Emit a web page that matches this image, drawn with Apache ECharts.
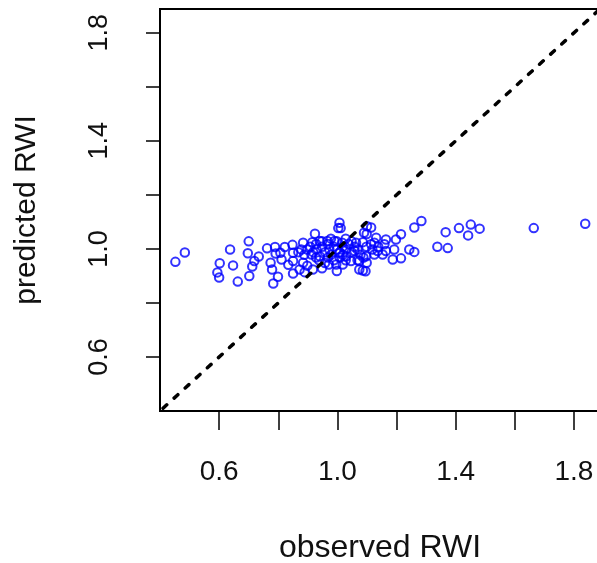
<!DOCTYPE html>
<html>
<head>
<meta charset="utf-8">
<script src="https://cdn.jsdelivr.net/npm/echarts@6/dist/echarts.min.js"></script>
<style>
  html, body { margin: 0; padding: 0; background: #fff; }
  #chart { width: 597px; height: 563px; }
</style>
</head>
<body>
<div id="chart"></div>
<script>
// observed / predicted RWI pairs
var observed = [
  0.454, 0.486, 0.604, 0.596, 0.602, 0.639, 0.649, 0.665, 0.702, 0.699,
  0.704, 0.721, 0.714, 0.736, 0.764, 0.776, 0.781, 0.801, 0.785, 0.791,
  0.793, 0.809, 0.813, 0.836, 0.852, 0.852, 0.824, 0.850, 0.852, 1.009,
  1.005, 1.013, 1.102, 1.092, 1.101, 0.926, 0.886, 0.917, 0.942, 0.968,
  0.992, 1.018, 1.065, 1.088, 1.133, 1.166, 1.200, 1.217, 1.262, 1.286,
  1.245, 1.262, 1.194, 1.138, 1.155, 1.189, 1.217, 1.127, 1.099, 1.076,
  1.101, 1.088, 1.097, 1.076, 1.048, 1.020, 0.998, 0.973, 0.942, 0.914,
  0.886, 0.874, 0.891, 0.919, 0.931, 0.975, 1.009, 1.032, 1.060, 1.116,
  1.368, 1.413, 1.453, 1.444, 1.483, 1.340, 1.375, 1.666, 1.840, 1.166,
  1.161, 1.127, 1.116,
  0.90, 0.91, 0.93, 0.95, 0.96, 0.97, 0.98, 0.99, 1.00, 1.01,
  1.02, 1.03, 1.04, 1.05, 1.06, 1.07, 1.08, 1.10, 0.94, 0.96,
  0.99, 1.01, 1.03, 0.92, 0.88, 0.89, 0.95, 1.00, 1.05, 0.97,
  1.02, 1.09, 1.12, 1.14, 0.87, 0.93, 0.98, 1.03, 1.07, 0.90,
  0.95, 1.00
];
var predicted = [
  0.954, 0.989, 0.949, 0.915, 0.896, 1.000, 0.941, 0.881, 1.030, 0.986,
  0.902, 0.957, 0.937, 0.974, 1.004, 0.951, 0.926, 0.899, 0.874, 1.009,
  0.985, 0.988, 0.963, 0.943, 0.911, 0.957, 1.009, 1.017, 0.988, 1.099,
  1.079, 1.079, 1.086, 1.062, 1.057, 1.058, 1.025, 1.027, 1.031, 1.031,
  1.031, 1.025, 1.025, 1.027, 1.043, 1.037, 1.037, 1.056, 1.081, 1.105,
  1.000, 0.991, 1.000, 0.994, 0.981, 0.963, 0.967, 0.981, 0.975, 0.957,
  0.951, 0.922, 0.919, 0.926, 0.957, 0.944, 0.944, 0.944, 0.975, 0.981,
  0.951, 0.926, 0.916, 0.926, 1.000, 1.000, 0.988, 0.975, 0.994, 1.019,
  1.064, 1.079, 1.092, 1.052, 1.077, 1.010, 1.005, 1.079, 1.095, 0.994,
  1.019, 1.025, 1.081,
  1.00, 1.01, 1.02, 1.01, 0.99, 1.02, 0.98, 1.01, 1.00, 0.99,
  1.01, 1.00, 1.02, 0.99, 1.01, 1.00, 0.98, 1.01, 0.96, 0.95,
  0.96, 0.97, 0.96, 0.99, 1.00, 0.98, 1.03, 1.03, 1.03, 0.97,
  0.98, 0.97, 1.00, 1.01, 0.99, 0.97, 1.04, 1.04, 0.96, 0.94,
  0.93, 0.92
];
var refLine = [[0.3, 0.3], [2.0, 2.0]];
var tickLabels = ["0.6", "1.0", "1.4", "1.8"];

var points = observed.map(function (x, i) { return [x, predicted[i]]; });
var font = "Liberation Sans";

function tickText(v) {
  var s = v.toFixed(1);
  return tickLabels.indexOf(s) >= 0 ? s : "";
}

var chart = echarts.init(document.getElementById("chart"));
chart.setOption({
  animation: false,
  grid: {
    left: 160, top: 9, width: 440, height: 402,
    outerBoundsMode: "none",
    show: true, borderColor: "#000", borderWidth: 2, backgroundColor: "transparent"
  },
  xAxis: {
    type: "value", min: 0.402, max: 1.89, interval: 0.2,
    splitLine: { show: false },
    axisLine: { show: true, lineStyle: { color: "#000", width: 2 } },
    axisTick: { show: true, length: 19, lineStyle: { color: "#000", width: 1.5 } },
    axisLabel: {
      show: true, showMinLabel: false, showMaxLabel: false, margin: 47,
      fontFamily: font, fontSize: 28, color: "#111",
      formatter: tickText
    },
    name: "observed RWI", nameLocation: "middle", nameGap: 121,
    nameTextStyle: { fontFamily: font, fontSize: 32, color: "#111" }
  },
  yAxis: {
    type: "value", min: 0.402, max: 1.89, interval: 0.2,
    splitLine: { show: false },
    axisLine: { show: true, lineStyle: { color: "#000", width: 2 } },
    axisTick: { show: true, length: 14, lineStyle: { color: "#000", width: 1.5 } },
    axisLabel: {
      show: true, showMinLabel: false, showMaxLabel: false, rotate: 90, margin: 47,
      fontFamily: font, fontSize: 27, color: "#111",
      formatter: tickText
    },
    name: "predicted RWI", nameLocation: "middle", nameGap: 118, nameRotate: 90,
    nameTextStyle: { fontFamily: font, fontSize: 30, color: "#111" }
  },
  series: [
    {
      type: "line",
      data: refLine,
      symbol: "none",
      silent: true,
      lineStyle: { color: "#000", width: 3.5, type: [5, 10], cap: "round" }
    },
    {
      type: "scatter",
      data: points,
      symbol: "circle",
      symbolSize: 8.5,
      itemStyle: { color: "rgba(0,0,0,0)", borderColor: "#0000ff", borderWidth: 2 }
    }
  ]
});
</script>
</body>
</html>
